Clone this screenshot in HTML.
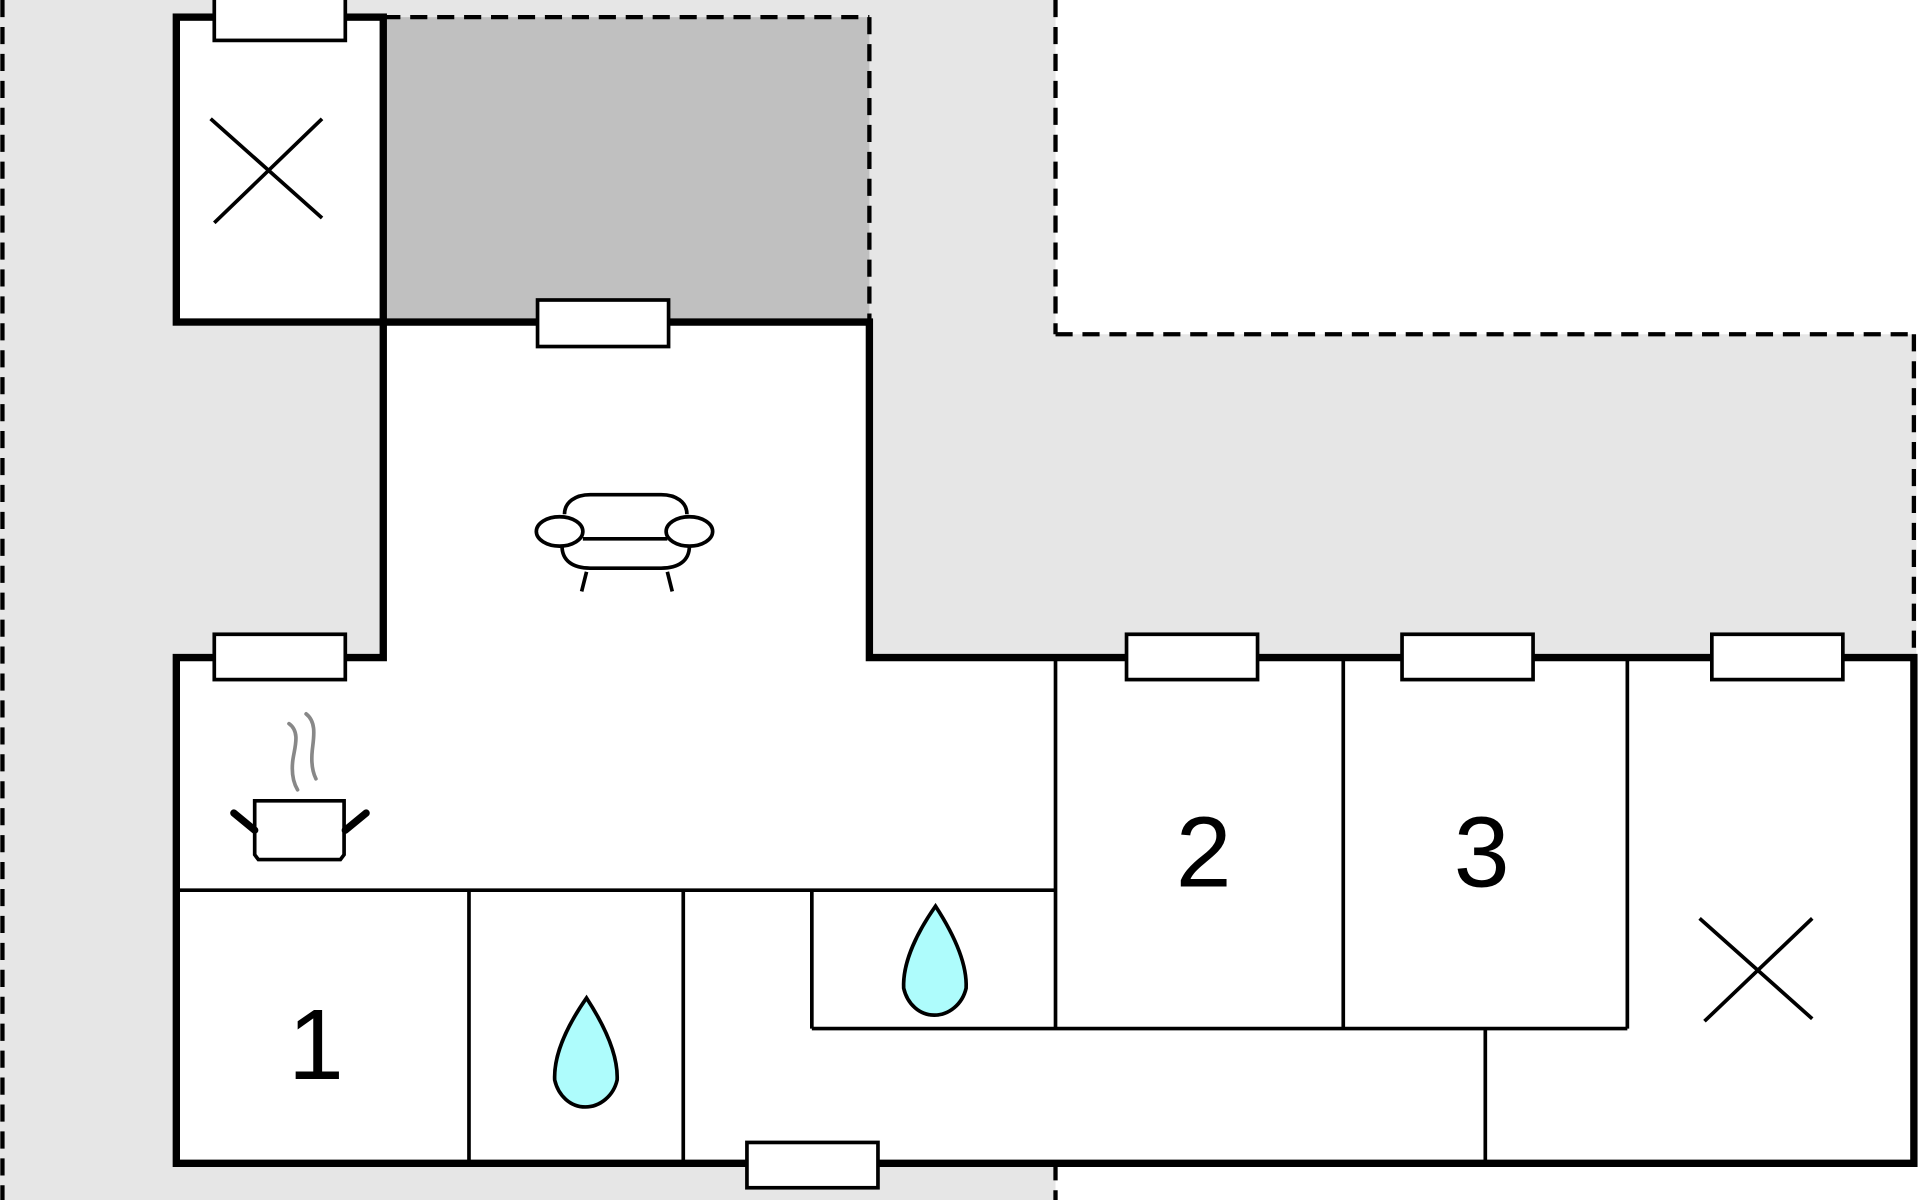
<!DOCTYPE html>
<html><head><meta charset="utf-8"><style>html,body{margin:0;padding:0;background:#fff}svg{display:block}</style></head>
<body>
<svg width="1920" height="1200" viewBox="0 0 1568 980" xmlns="http://www.w3.org/2000/svg">
<rect x="0" y="0" width="862" height="980" fill="#e6e6e6"/>
<rect x="862" y="273" width="703" height="264" fill="#e6e6e6"/>
<rect x="313" y="14" width="397" height="249" fill="#c0c0c0"/>
<g fill="none" stroke="#000" stroke-width="3.5" stroke-dasharray="14,8">
<line x1="2" y1="0" x2="2" y2="980"/>
<line x1="862" y1="0" x2="862" y2="273"/>
<line x1="862" y1="273" x2="1563" y2="273"/>
<line x1="1563" y1="273" x2="1563" y2="537"/>
<line x1="862" y1="950" x2="862" y2="980"/>
<line x1="313" y1="14" x2="710" y2="14"/>
<line x1="710" y1="14" x2="710" y2="263"/>
</g>
<path d="M313,263 L710,263 L710,537 L1563,537 L1563,950 L144,950 L144,537 L313,537 Z" fill="#fff"/>
<rect x="144" y="14" width="169" height="249" fill="#fff"/>
<g stroke="#000" stroke-width="3" fill="none">
<line x1="144" y1="727" x2="862" y2="727"/>
<line x1="862" y1="537" x2="862" y2="840"/>
<line x1="1097" y1="537" x2="1097" y2="840"/>
<line x1="1329" y1="537" x2="1329" y2="840"/>
<line x1="663" y1="840" x2="1329" y2="840"/>
<line x1="663" y1="727" x2="663" y2="840"/>
<line x1="383" y1="727" x2="383" y2="950"/>
<line x1="558" y1="727" x2="558" y2="950"/>
<line x1="1213" y1="840" x2="1213" y2="950"/>
<line x1="172" y1="97" x2="263" y2="178"/><line x1="263" y1="97" x2="175" y2="182"/>
<line x1="1388" y1="750" x2="1480" y2="832"/><line x1="1480" y1="750" x2="1392" y2="834"/>
</g>
<g stroke="#000" stroke-width="6" fill="none" stroke-linejoin="miter">
<path d="M313,263 L710,263 L710,537 L1563,537 L1563,950 L144,950 L144,537 L313,537 Z"/>
<rect x="144" y="14" width="169" height="249"/>
</g>
<g fill="#fff" stroke="#000" stroke-width="3">
<rect x="175" y="-2" width="107" height="35"/>
<rect x="439" y="245" width="107" height="38"/>
<rect x="175" y="518" width="107" height="37"/>
<rect x="920" y="518" width="107" height="37"/>
<rect x="1145" y="518" width="107" height="37"/>
<rect x="1398" y="518" width="107" height="37"/>
<rect x="610" y="933" width="107" height="37"/>
</g>
<g font-family="Liberation Sans, sans-serif" font-size="82" text-anchor="middle" fill="#000">
<text x="258" y="881">1</text>
<text x="983" y="724">2</text>
<text x="1210" y="724">3</text>
</g>
<g fill="#aefcfc" stroke="#000" stroke-width="3">
<path d="M479,815 C465,835 452,860 453,882 C456,895 466,904 478,904 C490,904 501,895 504,882 C505,860 492,835 479,815 Z"/>
<path d="M764,740 C750,760 737,785 738,807 C741,820 751,829 763,829 C775,829 786,820 789,807 C790,785 777,760 764,740 Z"/>
</g>
<g stroke="#000" stroke-width="3" fill="#fff">
<path d="M461,420 C461,410 470,404 482,404 L540,404 C552,404 561,410 561,420"/>
<path d="M459,446 C459,458 468,464 482,464 L540,464 C554,464 563,458 563,446"/>
<line x1="476" y1="440" x2="545" y2="440"/>
<ellipse cx="457" cy="434" rx="19" ry="12"/>
<ellipse cx="563" cy="434" rx="19" ry="12"/>
<line x1="479" y1="467" x2="475" y2="483"/>
<line x1="545" y1="467" x2="549" y2="483"/>
</g>
<g stroke="#888" stroke-width="3" fill="none" stroke-linecap="round">
<path d="M236,591 C246,598 240,612 239,622 C238,632 240,640 243,645"/>
<path d="M250,583 C259,590 256,603 255,613 C254,623 255,630 258,636"/>
</g>
<g stroke="#000" fill="none">
<path d="M208,654 L281,654 L281,698 L278,702 L211,702 L208,698 Z" stroke-width="3" fill="#fff"/>
<line x1="191" y1="664" x2="208" y2="678" stroke-width="6" stroke-linecap="round"/>
<line x1="299" y1="664" x2="282" y2="678" stroke-width="6" stroke-linecap="round"/>
</g>
</svg>
</body></html>
